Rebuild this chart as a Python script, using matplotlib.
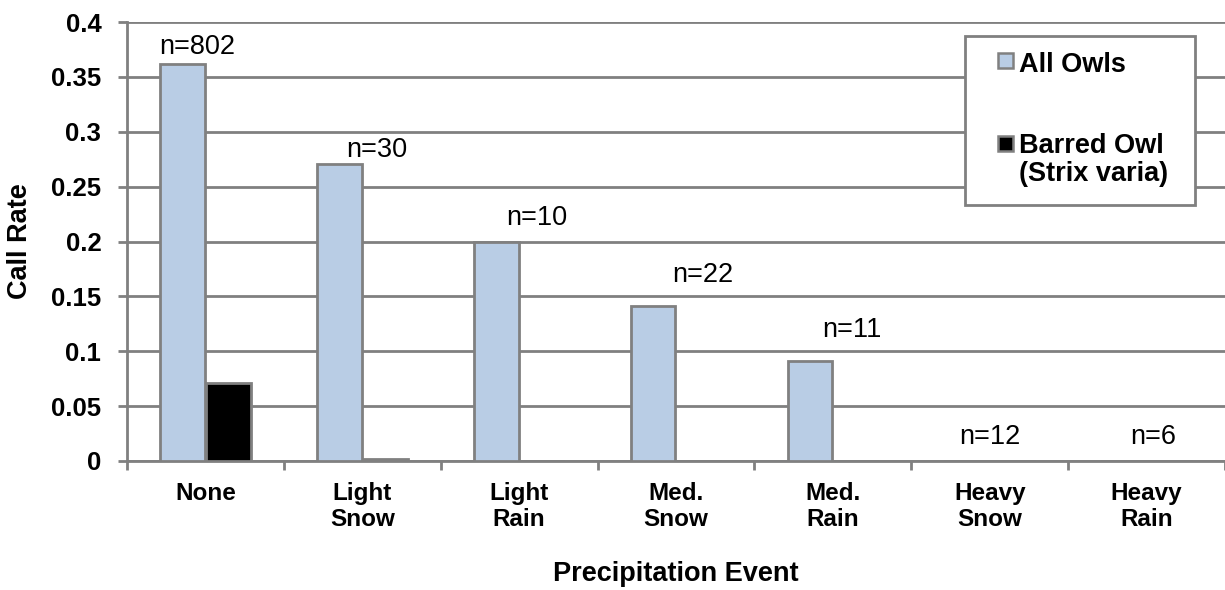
import numpy as np
import matplotlib
matplotlib.use('Agg')
import matplotlib.pyplot as plt
from matplotlib.patches import Rectangle

plt.rcParams['font.family'] = ['Liberation Sans', 'DejaVu Sans']

categories = ['None', 'Light\nSnow', 'Light\nRain', 'Med.\nSnow', 'Med.\nRain', 'Heavy\nSnow', 'Heavy\nRain']
allOwls = [0.362, 0.271, 0.2, 0.141, 0.091, 0.0, 0.0]
barredOwl = [0.071, 0.002, 0.0, 0.0, 0.0, 0.0, 0.0]
sampleLabels = ['n=802', 'n=30', 'n=10', 'n=22', 'n=11', 'n=12', 'n=6']
# where the n= labels sit (they were dragged around by hand in the original)
labelY = [0.377, 0.283, 0.221, 0.1695, 0.119, 0.022, 0.022]
labelDx = [-0.05, 0.09, 0.11, 0.17, 0.12, 0.0, 0.04]

blue = '#B9CDE5'
gray = '#808080'
W, H = 1225, 590
fig = plt.figure(figsize=(W / 100, H / 100), dpi=100)
ax = fig.add_axes([127 / W, 1 - 461 / H, 1 - 127 / W, (461 - 22) / H])

x = np.arange(len(categories))
w = 0.285
ax.bar(x - w / 2 - 0.004, allOwls, w, color=blue, edgecolor=gray, linewidth=2, zorder=3)
ax.bar(x + w / 2 + 0.004, barredOwl, w, color='black', edgecolor=gray, linewidth=2, zorder=3)

for i, lab in enumerate(sampleLabels):
    ax.text(x[i] + labelDx[i], labelY[i], lab, ha='center', va='center', fontsize=19.5, zorder=4)

ax.set_ylim(0, 0.4)
ax.set_xlim(-0.5, 6.46)
ax.set_yticks(np.arange(0, 0.41, 0.05))
ax.set_yticklabels(['0', '0.05', '0.1', '0.15', '0.2', '0.25', '0.3', '0.35', '0.4'],
                   fontsize=18.5, fontweight='bold')
ax.set_xticks(x)
ax.set_xticklabels(categories, fontsize=17.5, fontweight='bold', linespacing=1.2)
ax.set_xticks(np.arange(-0.5, 7, 1), minor=True)
ax.tick_params(axis='x', which='major', length=0, pad=15)
ax.tick_params(axis='x', which='minor', length=6.5, width=2, color=gray, direction='out')
ax.tick_params(axis='y', length=6.5, width=2, color=gray, pad=12)
ax.yaxis.grid(True, color=gray, linewidth=2, zorder=0)
ax.set_axisbelow(True)
for s in ['top', 'right']:
    ax.spines[s].set_visible(False)
for s in ['left', 'bottom']:
    ax.spines[s].set_color(gray)
    ax.spines[s].set_linewidth(2)

fig.text(20 / W, 1 - 241 / H, 'Call Rate', rotation=90, ha='center', va='center',
         fontsize=19.5, fontweight='bold')
fig.text(676 / W, 1 - 574 / H, 'Precipitation Event', ha='center', va='center',
         fontsize=19.5, fontweight='bold')

# legend box drawn by hand so the swatch sits beside the first line of each entry
fig.patches.append(Rectangle((965 / W, 1 - 205 / H), 230 / W, 169 / H, transform=fig.transFigure,
                             facecolor='white', edgecolor=gray, linewidth=2, zorder=10))
fig.patches.append(Rectangle((998 / W, 1 - 68 / H), 15 / W, 15 / H, transform=fig.transFigure,
                             facecolor=blue, edgecolor=gray, linewidth=1.8, zorder=11))
fig.patches.append(Rectangle((998 / W, 1 - 151 / H), 15 / W, 15 / H, transform=fig.transFigure,
                             facecolor='black', edgecolor=gray, linewidth=1.8, zorder=11))
fig.text(1019 / W, 1 - 72 / H, 'All Owls', ha='left', va='baseline',
         fontsize=19.5, fontweight='bold', zorder=12)
fig.text(1019 / W, 1 - 153 / H, 'Barred Owl', ha='left', va='baseline',
         fontsize=19.5, fontweight='bold', zorder=12)
fig.text(1019 / W, 1 - 181 / H, '(Strix varia)', ha='left', va='baseline',
         fontsize=19.5, fontweight='bold', zorder=12)

fig.savefig('out.png', dpi=100)
